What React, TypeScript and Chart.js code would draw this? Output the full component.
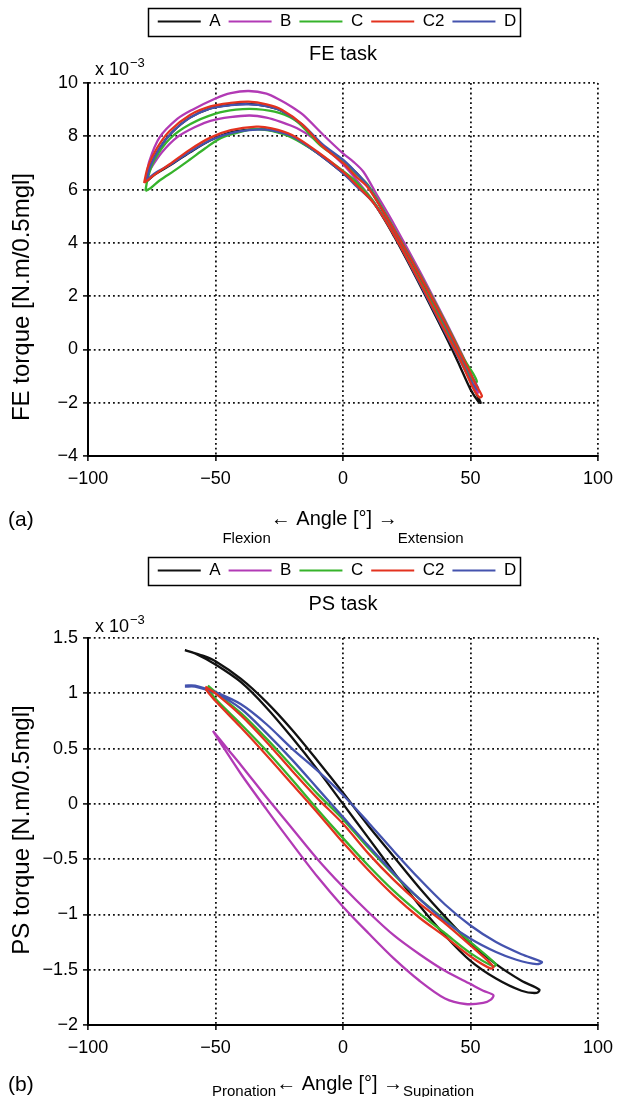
import React, { useEffect, useRef } from 'react';
import { Chart, registerables } from 'chart.js';

Chart.register(...registerables);

const FONT = "'Liberation Sans', Arial, Helvetica, sans-serif";
Chart.defaults.font.family = FONT;
Chart.defaults.color = '#000';

// ---------- data ----------
const SERIES_NAMES = ['A', 'B', 'C', 'C2', 'D'];
const SERIES_COLORS = ['#111111', '#b23ab5', '#36b32b', '#e3321f', '#4453ae'];
const SERIES_ORDER = [5, 4, 3, 1, 2];

const X_TICKS = [-100, -50, 0, 50, 100];
const FE_Y_TICKS = [-4, -2, 0, 2, 4, 6, 8, 10];
const PS_Y_TICKS = [-2, -1.5, -1, -0.5, 0, 0.5, 1, 1.5];

// FE task (torque x 10^-3)
const FE_A_ANGLE = [-77, -75.5, -72, -67, -60, -52, -44, -37, -30, -24, -16, -8, 0, 5, 10, 20, 30, 40, 45, 49, 52, 54, 53, 50, 45, 40, 30, 20, 12, 5, 0, -10, -20, -28, -34, -44, -52, -60, -68, -74, -77];
const FE_A_TORQUE = [6.3, 6.9, 7.55, 8.15, 8.7, 9.05, 9.18, 9.22, 9.13, 8.95, 8.42, 7.65, 7.08, 6.65, 6.1, 4.45, 2.7, 0.85, -0.15, -0.95, -1.6, -2.0, -1.95, -1.5, -0.45, 0.55, 2.45, 4.25, 5.5, 6.2, 6.62, 7.37, 7.98, 8.22, 8.27, 8.15, 7.85, 7.4, 6.9, 6.55, 6.3];

const FE_B_ANGLE = [-77, -76, -72, -65, -59, -50, -44, -37, -30, -24.7, -20, -15.6, -7.7, 0, 4, 8, 13, 20, 30, 40, 45, 48, 51, 53, 52.5, 50, 45, 40, 30, 20, 12, 5, 0, -5, -11.6, -18, -24.7, -30, -36.5, -44.3, -52, -58, -65, -71, -75.7, -77];
const FE_B_TORQUE = [6.5, 7.05, 7.95, 8.65, 9.0, 9.42, 9.62, 9.7, 9.6, 9.36, 9.1, 8.8, 8.05, 7.36, 7.05, 6.67, 5.85, 4.7, 2.95, 1.1, 0.15, -0.45, -1.1, -1.6, -1.65, -1.15, -0.15, 0.8, 2.6, 4.35, 5.55, 6.4, 6.95, 7.4, 7.92, 8.3, 8.55, 8.7, 8.78, 8.72, 8.58, 8.35, 7.97, 7.4, 6.75, 6.5];

const FE_C_ANGLE = [-77.5, -76.5, -74, -68, -60, -50, -42, -34, -25, -18, -9, 0, 5, 10, 20, 30, 40, 45, 48, 51, 52.5, 52, 50, 45, 40, 30, 20, 12, 5, 0, -10, -20, -28, -35, -42, -48, -54, -60, -66, -71.8, -75.5, -77.5];
const FE_C_TORQUE = [5.95, 6.45, 7.1, 7.9, 8.45, 8.85, 9.0, 9.02, 8.88, 8.55, 7.67, 7.05, 6.6, 6.15, 4.55, 2.85, 1.05, 0.1, -0.45, -0.9, -1.2, -1.25, -1.05, -0.15, 0.8, 2.6, 4.35, 5.55, 6.3, 6.7, 7.38, 7.95, 8.2, 8.27, 8.12, 7.93, 7.55, 7.13, 6.72, 6.35, 6.05, 5.95];

const FE_C2_ANGLE = [-78, -76.5, -73, -68, -60, -52, -44, -37, -30, -24, -16, -8, 0, 5, 10, 20, 30, 40, 45, 49, 52, 54.5, 53.5, 51, 46, 40, 30, 20, 12, 5, 0, -10, -20, -28, -34, -44, -52, -60, -68, -74, -78];
const FE_C2_TORQUE = [6.25, 6.85, 7.55, 8.2, 8.8, 9.12, 9.25, 9.3, 9.2, 9.0, 8.45, 7.62, 7.0, 6.5, 6.05, 4.5, 2.8, 1.0, 0.05, -0.7, -1.3, -1.75, -1.8, -1.45, -0.4, 0.7, 2.55, 4.3, 5.5, 6.2, 6.67, 7.42, 8.05, 8.3, 8.36, 8.23, 7.95, 7.5, 6.95, 6.55, 6.25];

const FE_D_ANGLE = [-77, -75.5, -72, -67, -60, -52, -44, -37, -30, -24, -16, -8, 0, 5, 10, 20, 30, 40, 45, 49, 53, 52.5, 50, 45, 40, 30, 20, 12, 5, 0, -10, -20, -28, -34, -44, -52, -60, -68, -74, -77];
const FE_D_TORQUE = [6.35, 6.9, 7.55, 8.15, 8.7, 9.05, 9.17, 9.2, 9.13, 8.95, 8.45, 7.7, 7.12, 6.65, 6.1, 4.5, 2.8, 0.95, 0.0, -0.75, -1.45, -1.5, -1.15, -0.25, 0.65, 2.5, 4.3, 5.5, 6.15, 6.62, 7.37, 8.0, 8.22, 8.25, 8.12, 7.85, 7.42, 6.92, 6.6, 6.35];

// PS task (torque x 10^-3)
const PS_A_ANGLE = [-62, -55, -50, -40, -30, -20, -10, 0, 10, 20, 30, 40, 50, 60, 70, 77, 76, 70, 60, 50, 40, 30, 20, 10, 0, -10, -20, -30, -40, -50, -58, -62];
const PS_A_TORQUE = [1.39, 1.34, 1.29, 1.13, 0.92, 0.67, 0.39, 0.1, -0.2, -0.48, -0.76, -1.02, -1.26, -1.45, -1.6, -1.68, -1.71, -1.69, -1.58, -1.42, -1.19, -0.92, -0.62, -0.31, 0.0, 0.31, 0.6, 0.87, 1.1, 1.26, 1.36, 1.39];

const PS_B_ANGLE = [-51, -45, -40, -30, -20, -10, 0, 10, 20, 30, 40, 50, 55, 59, 58, 55, 48, 40, 30, 20, 10, 0, -10, -20, -30, -40, -48, -51];
const PS_B_TORQUE = [0.66, 0.49, 0.35, 0.06, -0.22, -0.5, -0.75, -0.98, -1.19, -1.36, -1.51, -1.63, -1.69, -1.73, -1.77, -1.8, -1.81, -1.76, -1.6, -1.4, -1.17, -0.93, -0.66, -0.36, -0.05, 0.27, 0.55, 0.66];

const PS_C_ANGLE = [-53, -50, -40, -30, -20, -10, 0, 10, 20, 30, 40, 50, 60, 59, 50, 40, 30, 20, 10, 0, -10, -20, -30, -40, -50, -53];
const PS_C_TORQUE = [1.07, 1.01, 0.82, 0.59, 0.34, 0.09, -0.14, -0.4, -0.64, -0.86, -1.05, -1.25, -1.45, -1.47, -1.35, -1.17, -0.99, -0.79, -0.56, -0.31, -0.05, 0.22, 0.48, 0.72, 0.95, 1.05];

const PS_C2_ANGLE = [-54, -50, -40, -30, -20, -10, 0, 10, 20, 30, 40, 50, 59, 58, 50, 40, 30, 20, 10, 0, -10, -20, -30, -40, -50, -54];
const PS_C2_TORQUE = [1.06, 1.0, 0.8, 0.56, 0.3, 0.05, -0.18, -0.45, -0.69, -0.9, -1.08, -1.28, -1.47, -1.49, -1.38, -1.2, -1.03, -0.83, -0.6, -0.35, -0.08, 0.18, 0.44, 0.69, 0.93, 1.04];

const PS_D_ANGLE = [-62, -58, -50, -40, -30, -20, -10, 0, 10, 20, 30, 40, 50, 60, 70, 78, 76, 68, 60, 50, 40, 30, 20, 10, 0, -10, -20, -30, -40, -50, -58, -62];
const PS_D_TORQUE = [1.07, 1.07, 1.01, 0.9, 0.72, 0.5, 0.3, 0.08, -0.17, -0.43, -0.68, -0.91, -1.1, -1.25, -1.36, -1.43, -1.45, -1.41, -1.34, -1.22, -1.06, -0.86, -0.63, -0.38, -0.12, 0.14, 0.4, 0.64, 0.86, 1.0, 1.06, 1.06];

const FE_ANGLES = [FE_A_ANGLE, FE_B_ANGLE, FE_C_ANGLE, FE_C2_ANGLE, FE_D_ANGLE];
const FE_TORQUES = [FE_A_TORQUE, FE_B_TORQUE, FE_C_TORQUE, FE_C2_TORQUE, FE_D_TORQUE];
const PS_ANGLES = [PS_A_ANGLE, PS_B_ANGLE, PS_C_ANGLE, PS_C2_ANGLE, PS_D_ANGLE];
const PS_TORQUES = [PS_A_TORQUE, PS_B_TORQUE, PS_C_TORQUE, PS_C2_TORQUE, PS_D_TORQUE];

// ---------- helpers ----------
const fmt = (v: number) => String(Math.round(v * 100) / 100).replace('-', '\u2212');

const toPoints = (angles: number[], torques: number[]) =>
  angles.map((x, i) => ({ x, y: torques[i] }));

const extrasPlugin = {
  id: 'panelExtras',
  afterLayout(chart: any, _args: any, o: any) {
    const lg = chart.legend;
    if (lg && o.legendShift) {
      lg.left += o.legendShift;
      lg.right += o.legendShift;
    }
  },
  afterDraw(chart: any, _args: any, o: any) {
    const { ctx, chartArea, legend } = chart;
    ctx.save();
    const hb = legend && legend.legendHitBoxes;
    if (hb && hb.length) {
      const first = hb[0];
      const last = hb[hb.length - 1];
      const cy = first.top + first.height / 2;
      const x0 = Math.round(first.left - 10);
      const x1 = Math.round(last.left + last.width + 4);
      ctx.strokeStyle = '#000';
      ctx.lineWidth = 1.5;
      ctx.strokeRect(x0 + 0.5, Math.round(cy - 14) + 0.5, x1 - x0, 28);
    }
    ctx.fillStyle = '#000';
    ctx.textAlign = 'left';
    ctx.textBaseline = 'alphabetic';
    // exponent note
    ctx.font = `18px ${FONT}`;
    const ex = chartArea.left + 7;
    ctx.fillText('x 10', ex, o.expBase);
    const w = ctx.measureText('x 10').width;
    ctx.font = `13px ${FONT}`;
    ctx.fillText('\u22123', ex + w + 1, o.expBase - 8);
    // y title
    ctx.save();
    ctx.translate(o.yTitleX, o.yTitleY);
    ctx.rotate(-Math.PI / 2);
    ctx.textAlign = 'center';
    ctx.textBaseline = 'middle';
    ctx.font = `24px ${FONT}`;
    ctx.fillText(o.yTitle, 0, 0);
    ctx.restore();
    // x title with subscripts
    ctx.font = `15px ${FONT}`;
    const wl = ctx.measureText(o.xSubLeft).width;
    const wr = ctx.measureText(o.xSubRight).width;
    ctx.font = `20px ${FONT}`;
    const wm = ctx.measureText(o.xMain).width;
    let x = (chartArea.left + chartArea.right) / 2 - (wl + wm + wr) / 2;
    ctx.font = `15px ${FONT}`;
    ctx.fillText(o.xSubLeft, x, o.xSubBase);
    x += wl;
    ctx.font = `20px ${FONT}`;
    ctx.fillText(o.xMain, x, o.xMainBase);
    x += wm;
    ctx.font = `15px ${FONT}`;
    ctx.fillText(o.xSubRight, x, o.xSubBase);
    // panel label
    ctx.font = `21px ${FONT}`;
    ctx.fillText(o.panel, o.panelX, o.panelBase);
    ctx.restore();
  },
};

type PanelCfg = {
  height: number;
  title: string;
  angles: number[][];
  torques: number[][];
  yTicks: number[];
  padTop: number;
  titlePadTop: number;
  titlePadBottom: number;
  xAxisHeight: number;
  extras: any;
};

function Panel({ cfg }: { cfg: PanelCfg }) {
  const ref = useRef<HTMLCanvasElement>(null);
  useEffect(() => {
    if (!ref.current) return;
    const datasets = SERIES_NAMES.map((name, i) => ({
      label: name,
      data: toPoints(cfg.angles[i], cfg.torques[i]),
      showLine: true,
      borderColor: SERIES_COLORS[i],
      backgroundColor: SERIES_COLORS[i],
      borderWidth: 2.3,
      pointRadius: 0,
      pointHoverRadius: 0,
      tension: 0.3,
      fill: false,
      order: SERIES_ORDER[i],
    }));
    const gridOpts = { color: '#111', lineWidth: 1.8, tickLength: 5, tickColor: '#000', tickWidth: 1.5 };
    const borderOpts = { display: true, color: '#000', width: 2, dash: [1.8, 3] };
    const chart = new Chart(ref.current, {
      type: 'scatter',
      data: { datasets },
      plugins: [extrasPlugin],
      options: {
        responsive: false,
        animation: false,
        devicePixelRatio: 1,
        events: [],
        layout: { padding: { left: 0, right: 22, top: cfg.padTop, bottom: 0 } },
        plugins: {
          tooltip: { enabled: false },
          legend: {
            display: true,
            position: 'top',
            fullSize: false,
            labels: {
              font: { size: 17 },
              color: '#000',
              boxWidth: 43,
              boxHeight: 2,
              padding: 8,
              sort: (a: any, b: any) => a.datasetIndex - b.datasetIndex,
              generateLabels: (c: any) =>
                (Chart.defaults.plugins.legend.labels as any)
                  .generateLabels(c)
                  .map((l: any) => ({ ...l, fillStyle: l.strokeStyle, lineWidth: 0 })),
            },
          },
          title: {
            display: true,
            text: cfg.title,
            fullSize: false,
            weight: 500,
            color: '#000',
            font: { size: 20, weight: 'normal' },
            padding: { top: cfg.titlePadTop, bottom: cfg.titlePadBottom },
          },
          panelExtras: cfg.extras,
        } as any,
        scales: {
          x: {
            type: 'linear',
            min: X_TICKS[0],
            max: X_TICKS[X_TICKS.length - 1],
            afterBuildTicks: (s: any) => {
              s.ticks = X_TICKS.map((value) => ({ value }));
            },
            afterFit: (s: any) => {
              s.height = cfg.xAxisHeight;
            },
            ticks: { font: { size: 18 }, color: '#000', padding: 7, maxRotation: 0, autoSkip: false, callback: (v: any) => fmt(Number(v)) },
            grid: gridOpts,
            border: borderOpts,
          },
          y: {
            type: 'linear',
            min: cfg.yTicks[0],
            max: cfg.yTicks[cfg.yTicks.length - 1],
            afterBuildTicks: (s: any) => {
              s.ticks = cfg.yTicks.map((value) => ({ value }));
            },
            afterFit: (s: any) => {
              s.width = 88;
            },
            ticks: { font: { size: 18 }, color: '#000', padding: 5, autoSkip: false, callback: (v: any) => fmt(Number(v)) },
            grid: gridOpts,
            border: borderOpts,
          },
        } as any,
      },
    } as any);
    return () => chart.destroy();
  }, []);
  return <canvas ref={ref} width={620} height={cfg.height} style={{ display: 'block' }} />;
}

const FE_CFG: PanelCfg = {
  height: 548,
  title: 'FE task',
  angles: FE_ANGLES,
  torques: FE_TORQUES,
  yTicks: FE_Y_TICKS,
  padTop: 5,
  titlePadTop: 2,
  titlePadBottom: 17,
  xAxisHeight: 92,
  extras: {
    legendShift: -6,
    expBase: 75,
    yTitle: 'FE torque [N.m/0.5mgl]',
    yTitleX: 22,
    yTitleY: 297,
    xSubLeft: 'Flexion',
    xMain: '\u2190 Angle [\u00b0] \u2192',
    xSubRight: 'Extension',
    xMainBase: 525,
    xSubBase: 543,
    panel: '(a)',
    panelX: 8,
    panelBase: 526,
  },
};

const PS_CFG: PanelCfg = {
  height: 549,
  title: 'PS task',
  angles: PS_ANGLES,
  torques: PS_TORQUES,
  yTicks: PS_Y_TICKS,
  padTop: 6,
  titlePadTop: 3,
  titlePadBottom: 22,
  xAxisHeight: 72,
  extras: {
    legendShift: -6,
    expBase: 84,
    yTitle: 'PS torque [N.m/0.5mgl]',
    yTitleX: 22,
    yTitleY: 282,
    xSubLeft: 'Pronation',
    xMain: '\u2190 Angle [\u00b0] \u2192',
    xSubRight: 'Supination',
    xMainBase: 542,
    xSubBase: 548,
    panel: '(b)',
    panelX: 8,
    panelBase: 543,
  },
};

export default function App() {
  return (
    <div style={{ position: 'absolute', left: 0, top: 0, width: 620, height: 1097, background: '#fff' }}>
      <Panel cfg={FE_CFG} />
      <Panel cfg={PS_CFG} />
    </div>
  );
}
